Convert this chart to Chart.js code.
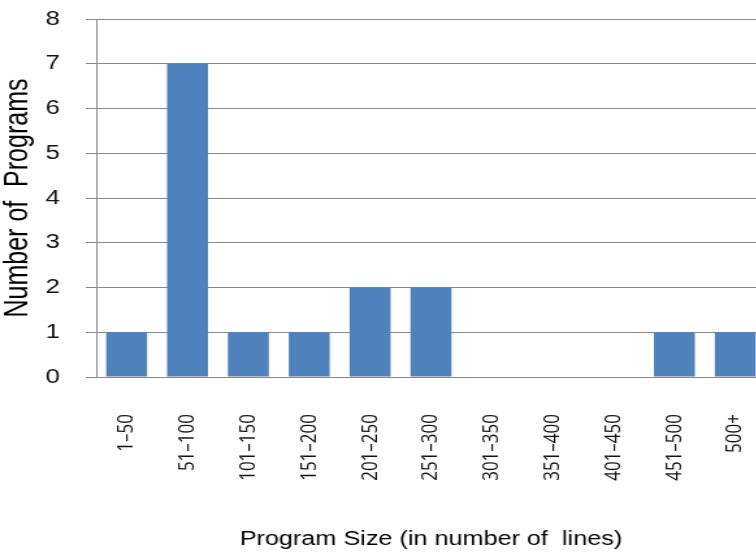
<!DOCTYPE html>
<html>
<head>
<meta charset="utf-8">
<script src="https://cdn.jsdelivr.net/npm/chart.js@4"></script>
<style>
  html, body { margin: 0; padding: 0; background: #fff; overflow: hidden; width: 756px; height: 557px; }
  #wrap { position: absolute; left: 0; top: 0; width: 590px; height: 557px; transform: scaleX(1.3); transform-origin: 0 0; }
</style>
</head>
<body>
<div id="wrap"><canvas id="c" width="590" height="557"></canvas></div>
<script>
const categories = ["1–50", "51–100", "101–150", "151–200", "201–250", "251–300", "301–350", "351–400", "401–450", "451–500", "500+"];
const programCounts = [1, 7, 1, 1, 2, 2, 0, 0, 0, 1, 1];
const yTicks = [0, 1, 2, 3, 4, 5, 6, 7, 8];
const xTitle = "Program Size (in number of  lines)";
const yTitle = "Number of  Programs";

const gridGray = "#888888";

new Chart(document.getElementById("c"), {
  type: "bar",
  data: {
    labels: categories,
    datasets: [{
      data: programCounts,
      backgroundColor: "#4F81BD",
      borderWidth: 0,
      barPercentage: 0.673,
      categoryPercentage: 1
    }]
  },
  options: {
    responsive: false,
    animation: false,
    layout: { padding: { top: 19, right: 1, left: 0, bottom: 0 } },
    plugins: { legend: { display: false }, tooltip: { enabled: false } },
    scales: {
      x: {
        grid: { display: false, drawTicks: false },
        border: { display: true, color: gridGray, width: 1 },
        ticks: {
          minRotation: 90, maxRotation: 90, autoSkip: false,
          padding: 37,
          color: "#111",
          font: { family: "Open Sans, Noto Sans, sans-serif", size: 17 }
        },
        title: {
          display: true, text: xTitle, color: "#000",
          font: { family: "Liberation Sans, Arial, sans-serif", size: 19.4, lineHeight: 1 },
          padding: { top: 0, bottom: 8 }
        },
        afterFit: (s) => { s.height = 180; s.paddingLeft = 0; s.paddingRight = 0; }
      },
      y: {
        min: 0, max: 8,
        afterBuildTicks: (s) => { s.ticks = yTicks.map(v => ({ value: v })); },
        grid: { color: gridGray, lineWidth: 1, drawTicks: true, tickLength: 8, tickColor: gridGray },
        border: { display: true, color: gridGray, width: 1 },
        ticks: {
          padding: 20,
          color: "#111",
          font: { family: "Liberation Sans, Arial, sans-serif", size: 20 }
        },
        title: {
          display: true, text: yTitle, color: "#000",
          font: { family: "Liberation Sans, Arial, sans-serif", size: 25, lineHeight: 1 },
          padding: { top: 2, bottom: 0 }
        },
        afterFit: (s) => { s.width = 74; s.paddingTop = 0; s.paddingBottom = 0; }
      }
    }
  }
});
</script>
</body>
</html>
